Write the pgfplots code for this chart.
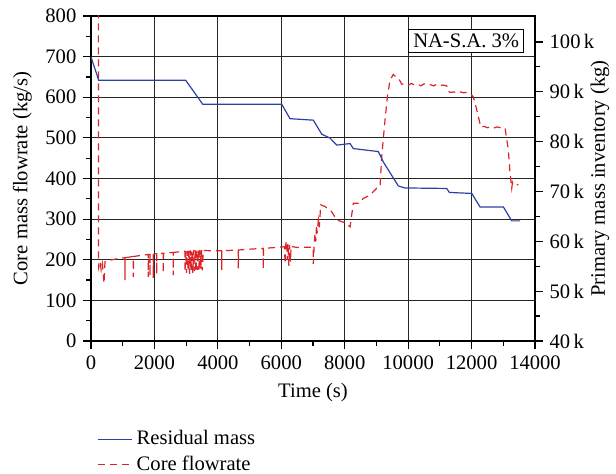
\documentclass[border=0pt]{standalone}
\usepackage{pgfplots}
\pgfplotsset{compat=1.18}
\usepackage{fontspec}
\setmainfont{Liberation Serif}
\definecolor{flowred}{RGB}{220,35,40}
\definecolor{massblue}{RGB}{45,65,165}

\pgfplotsset{
  common/.style={
    scale only axis, width=222pt, height=162.5pt,
    xmin=0, xmax=14000,
    tick align=outside,
    major tick length=3.8pt, minor tick length=2.4pt,
    every tick/.style={black, line width=0.6pt},
    axis line style={line width=0.7pt},
    /pgf/number format/assume math mode=true,
    tick label style={font=\fontsize{10.3}{12}\selectfont},
    label style={font=\fontsize{10.3}{12}\selectfont},
  }
}

\begin{document}
\begin{tikzpicture}[font=\fontsize{10.3}{12}\selectfont]
\begin{axis}[common,
  ymin=0, ymax=800,
  xtick={0,2000,...,14000}, minor x tick num=1,
  ytick={0,100,...,800}, minor y tick num=1,
  xtick pos=bottom, ytick pos=left,
  scaled x ticks=false,
  x tick label style={/pgf/number format/1000 sep={}},
  grid=major, grid style={black!85, line width=0.5pt},
  xlabel={Time (s)}, ylabel={Core mass flowrate (kg/s)},
]
\addplot[flowred, line width=0.6pt, dash pattern=on 3.5pt off 2.5pt] coordinates {
(231,900) (240,180) (290,195) (320,175) (360,190) (410,142) (441,195) (600,199) (861,203)
(1072,205) (1072,150) (1075,205) (1335,208) (1335,158) (1340,208) (1600,211)
(1807,213) (1807,158) (1812,213) (1860,213) (1860,160) (1865,213)
(1965,214) (1965,155) (1970,214) (2072,215) (2072,165) (2077,215)
(2280,216) (2280,167) (2285,216) (2595,218) (2595,162) (2600,218)
(2964,221) (2964,170) (2990,221) (3010,168) (3040,222) (3060,172) (3090,222) (3110,165)
(3140,223) (3160,175) (3190,223) (3210,168) (3240,224) (3260,172) (3290,224) (3310,170)
(3340,224) (3360,175) (3390,224) (3410,172) (3440,224) (3460,178) (3490,224) (3510,174) (3541,223)
(3800,222) (4121,222) (4121,175) (4126,222) (4646,224) (4646,179) (4651,224) (5000,226)
(5434,228) (5434,177) (5439,228) (5800,230)
(6100,232) (6120,190) (6140,238) (6171,246) (6190,200) (6210,240) (6240,185) (6260,236)
(6290,195) (6310,234) (6350,232) (6537,230) (6906,231)
(7010,230) (7010,190) (7040,240) (7064,265) (7090,245) (7110,285) (7130,265) (7169,298)
(7200,280) (7243,335) (7380,331) (7590,318) (7748,298) (8010,291) (8168,281) (8272,339)
(8430,339) (8587,351) (8798,359) (9010,376) (9114,380) (9167,454) (9271,544) (9345,601)
(9429,642) (9530,656) (9587,652) (9680,648) (9745,640) (9800,632)
(9900,633) (10000,629) (10100,634) (10200,630) (10300,632) (10400,628) (10500,633)
(10600,630) (10700,631) (10800,628) (10900,632) (11000,629) (11100,630) (11217,628)
(11268,614) (11350,612) (11450,613) (11550,610) (11650,613) (11750,611) (11850,612) (11952,610)
(12056,601) (12163,569) (12290,527) (12400,528) (12500,525) (12600,527) (12700,524)
(12800,527) (12900,525) (13056,524) (13160,470) (13213,413) (13267,376) (13290,390)
(13318,384) (13400,386) (13476,384)
};
\node[draw=black, line width=0.6pt, fill=white, inner sep=2.2pt] at (axis cs:11830,738) {NA-S.A. 3\%};
\coordinate (bl) at (rel axis cs:0,0);
\coordinate (tr) at (rel axis cs:1,1);
\end{axis}
\begin{axis}[common,
  axis x line=none, axis y line*=right,
  ymin=40, ymax=105.2,
  ytick={40,50,...,100}, minor y tick num=1,
  yticklabels={40\,k,50\,k,60\,k,70\,k,80\,k,90\,k,100\,k},
  ylabel={Primary mass inventory (kg)},
  ylabel style={at={(axis description cs:1,0.5)}, anchor=center, yshift=-32.5pt},
  legend style={at={(rel axis cs:0,-0.25)}, anchor=north west, draw=none, fill=none,
    font=\fontsize{10.3}{12}\selectfont, row sep=0pt},
  legend cell align=left,
]
\addplot[massblue, line width=0.6pt] coordinates {
(0,97.0) (243,92.3) (2986,92.3) (3522,87.5) (6013,87.5) (6275,84.6) (7010,84.3)
(7275,81.5) (7537,80.7) (7748,79.3) (8168,79.6) (8272,78.6) (9060,78.0) (9218,75.9)
(9691,71.1) (9902,70.7) (11217,70.6) (11300,69.8) (12006,69.6) (12267,66.9) (13002,66.9)
(13267,64.1) (13529,64.1)
};
\addlegendimage{flowred, line width=0.6pt, dash pattern=on 3.5pt off 2.5pt}
\legend{Residual mass, Core flowrate}
\end{axis}
\pgfresetboundingbox
\path[use as bounding box] ([shift={(-45.5pt,-66.5pt)}]bl) rectangle ([shift={(40.5pt,8pt)}]tr);
\end{tikzpicture}
\end{document}
